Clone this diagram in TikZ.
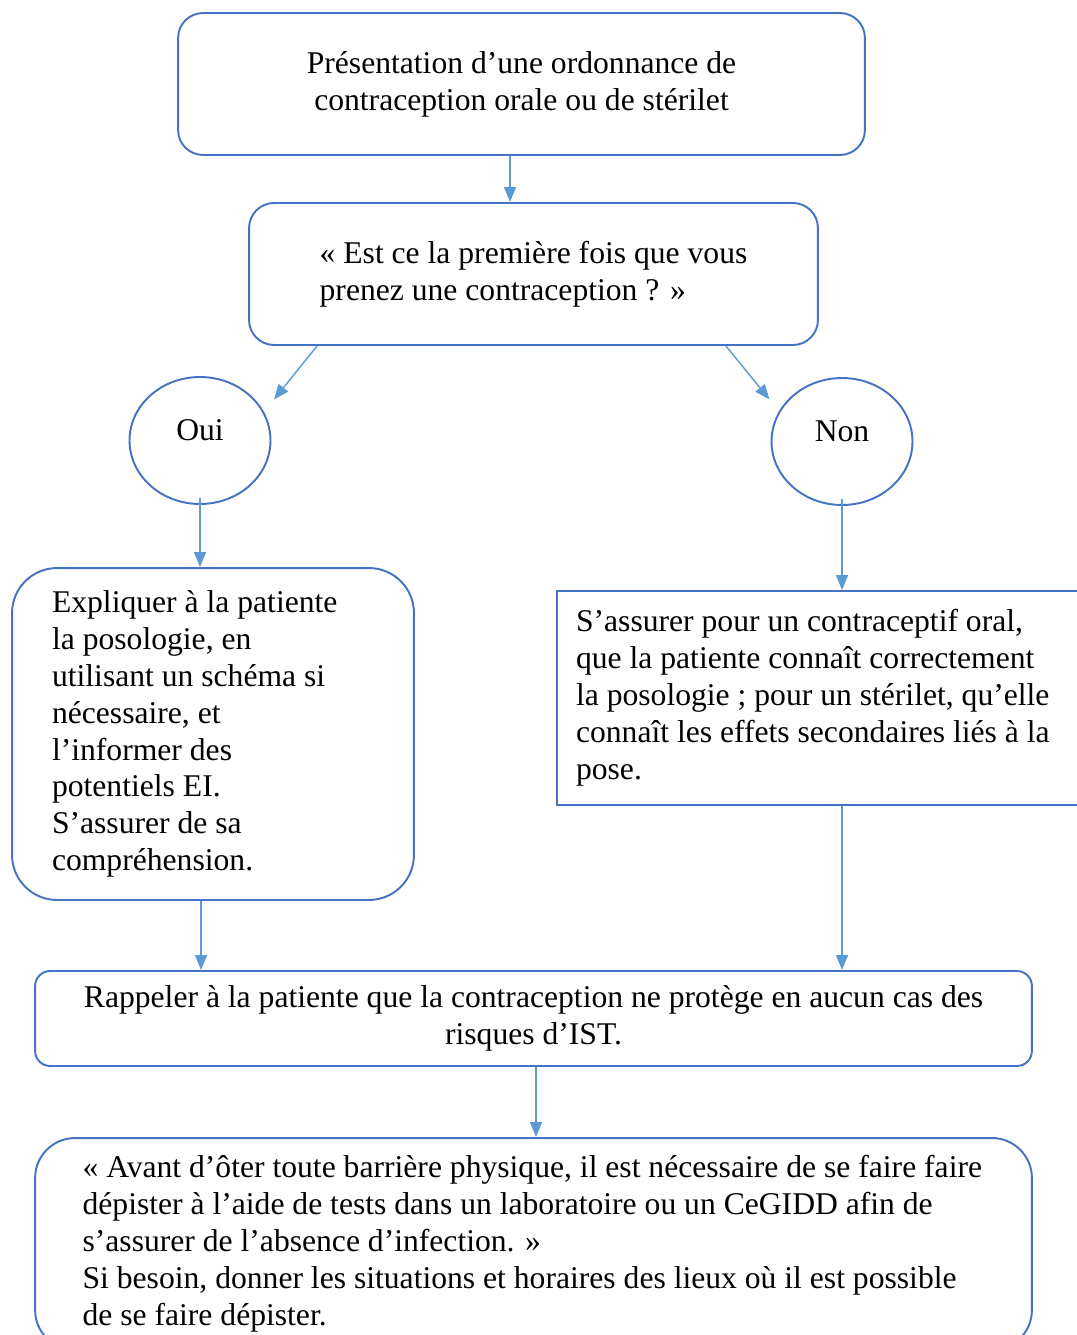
\documentclass[tikz,border=0pt]{standalone}
\usepackage{fontspec}
\setmainfont{Liberation Serif}
\usetikzlibrary{arrows.meta,shapes.geometric}
\definecolor{ordblue}{HTML}{4472C4}
\definecolor{ordarrow}{HTML}{5B9BD5}

\begin{document}
\begin{tikzpicture}[
    x=0.02cm, y=-0.02cm,
    box/.style={rectangle, rounded corners=0.5cm, draw=ordblue, line width=1.1pt, font=\fontsize{18}{21}\selectfont},
    bubble/.style={ellipse, draw=ordblue, line width=1.1pt, minimum width=2.82cm, minimum height=2.54cm, text depth=0.4cm, font=\fontsize{18}{21}\selectfont},
    arrow/.style={-{Triangle[length=0.3cm,width=0.24cm]}, draw=ordarrow, line width=0.8pt}
  ]
    \useasboundingbox (0,0) rectangle (1077,1335);
    \clip (0,0) rectangle (1077,1335);

    % Row 1: prescription
    \node[box, align=center, minimum width=13.74cm, minimum height=2.84cm] (presc) at (521.5,84)
      {Présentation d’une ordonnance de\\contraception orale ou de stérilet};

    % Row 2: question
    \node[box, align=flush left, minimum width=11.38cm, minimum height=2.84cm] (quest) at (533.5,274)
      {« Est ce la première fois que vous\\prenez une contraception ? »};
    \draw[arrow] ([xshift=-0.23cm]presc.south) -- ([xshift=-0.23cm]presc.south |- quest.north);

    % Row 3: answers
    \node[bubble] (oui) at (200,440.5) {Oui};
    \node[bubble] (non) at (842,441.5) {Non};
    \draw[arrow] ([xshift=1.38cm]quest.south west) -- ([shift={(0.47cm,-0.09cm)}]oui.north east);
    \draw[arrow] ([xshift=-1.86cm]quest.south east) -- ([shift={(-0.44cm,-0.07cm)}]non.north west);

    % Row 4: explanations
    \node[box, rounded corners=0.9cm, align=flush left, text width=6.44cm, inner xsep=0.8cm,
      minimum height=6.64cm] (expl) at (213,734)
      {Expliquer à la patiente\\la posologie, en\\utilisant un schéma si\\nécessaire, et\\l’informer des\\potentiels EI.\\S’assurer de sa\\compréhension.};
    \node[box, sharp corners, align=flush left, text width=9.9cm, inner xsep=0.38cm,
      minimum height=4.28cm] (verif) at (823.5,698)
      {S’assurer pour un contraceptif oral,\\que la patiente connaît correctement\\la posologie ; pour un stérilet, qu’elle\\connaît les effets secondaires liés à la\\pose.};
    \draw[arrow] ([yshift=0.14cm]oui.south) -- (oui.south |- expl.north);
    \draw[arrow] ([yshift=0.14cm]non.south) -- (non.south |- verif.north);

    % Row 5: reminder
    \node[box, rounded corners=0.3cm, align=center, minimum width=19.94cm, minimum height=1.9cm] (rappel) at (533.5,1018.5)
      {Rappeler à la patiente que la contraception ne protège en aucun cas des\\risques d’IST.};
    \draw[arrow] ([xshift=-0.24cm]expl.south) -- ([xshift=-0.24cm]expl.south |- rappel.north);
    \draw[arrow] (non.south |- verif.south) -- (non.south |- rappel.north);

    % Row 6: screening
    \node[box, rounded corners=0.8cm, align=flush left, text width=18.04cm, inner xsep=0.95cm,
      minimum height=4.24cm] (depist) at (533.5,1244)
      {« Avant d’ôter toute barrière physique, il est nécessaire de se faire faire\\dépister à l’aide de tests dans un laboratoire ou un CeGIDD afin de\\s’assurer de l’absence d’infection. »\\Si besoin, donner les situations et horaires des lieux où il est possible\\de se faire dépister.};
    \draw[arrow] ([xshift=0.05cm]rappel.south) -- ([xshift=0.05cm]rappel.south |- depist.north);
  \end{tikzpicture}
\end{document}
